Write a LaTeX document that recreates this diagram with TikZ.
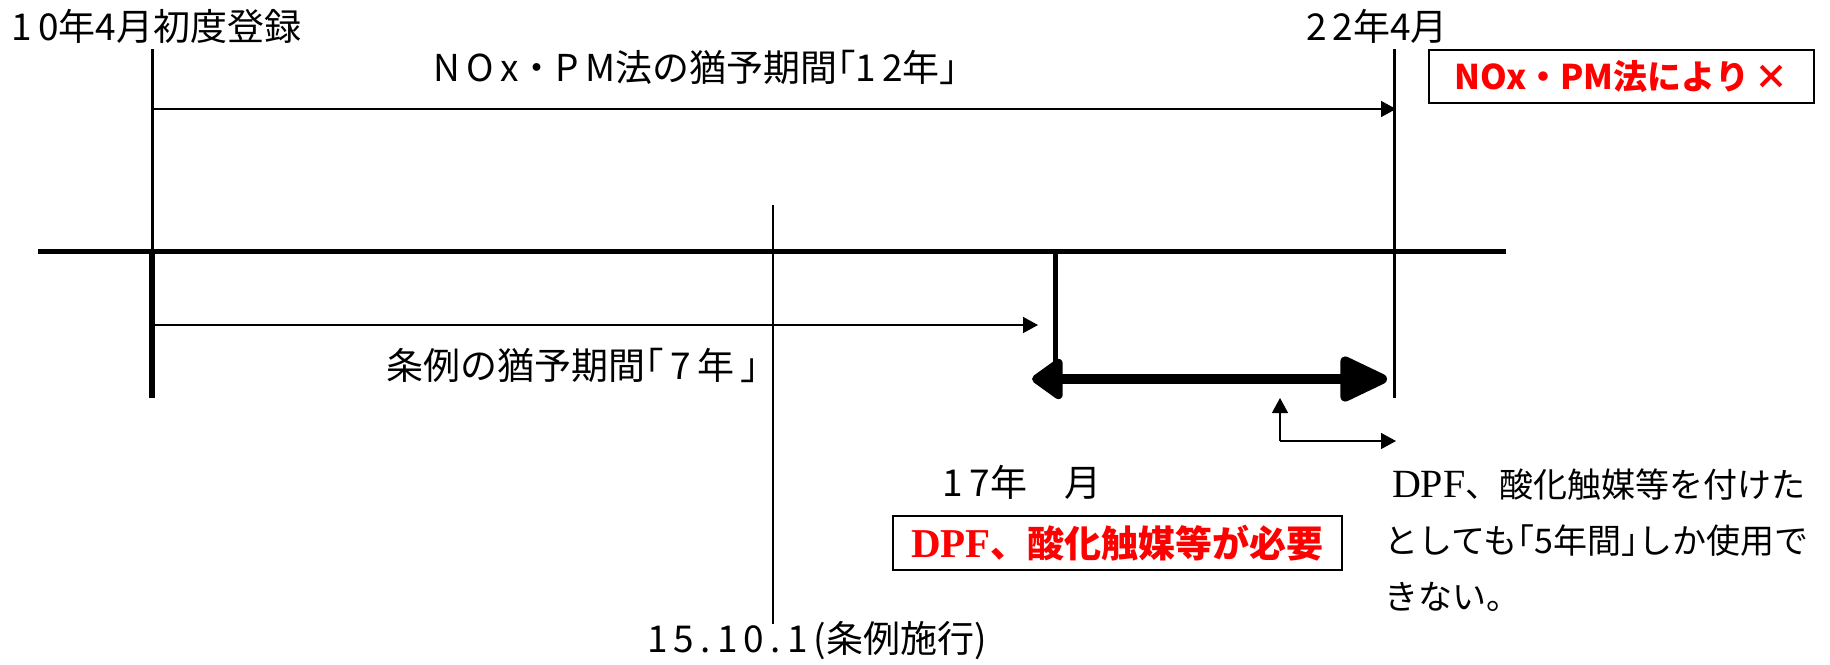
\documentclass[tikz,border=0pt]{standalone}
\usepackage{fontspec}
\setmainfont{Noto Sans CJK JP}
\newfontfamily\dpffont{Liberation Serif}
\usetikzlibrary{arrows.meta}

\begin{document}
\begin{tikzpicture}[x=0.5pt,y=-0.5pt,
        lbl/.style={inner sep=0pt, font=\fontsize{18.5}{28}\selectfont},
        redbox/.style={draw, line width=0.8pt, inner sep=0pt, text=red, font=\fontsize{17}{20}\selectfont\bfseries},
        thinarrow/.style={-{Triangle[length=7.5pt,width=8pt]}, line width=0.7pt},
        bigarrow/.style={{Triangle[round,length=17pt,width=23pt]}-{Triangle[round,length=27pt,width=24pt]}, line width=5pt}]
        \useasboundingbox (0,0) rectangle (1830,664);

        % time line and marks
        \coordinate (axL) at (38,251);
        \coordinate (axR) at (1506,251);
        \coordinate (regT) at (152,49);
        \coordinate (reg) at (152,251);
        \coordinate (regB) at (152,398);
        \coordinate (endT) at (1394,49);
        \coordinate (endB) at (1394,398);
        \coordinate (ordT) at (773,205);
        \coordinate (ordB) at (773,624);
        \coordinate (due) at (1055,251);
        \coordinate (dueB) at (1055,372);

        \draw[line width=2.5pt] (axL) -- (axR);
        \draw[line width=1.5pt] (regT) -- (reg);
        \draw[line width=3pt] (reg) -- (regB);
        \draw[line width=1.5pt] (endT) -- (endB);
        \draw[line width=1pt] (ordT) -- (ordB);
        \draw[line width=2.5pt] (due) -- (dueB);

        % periods
        \coordinate (nox0) at (152,109);
        \coordinate (nox1) at (1396,109);
        \coordinate (jor0) at (152,325);
        \coordinate (jor1) at (1038,325);
        \coordinate (use0) at (1032,379);
        \coordinate (use1) at (1387,379);
        \coordinate (kink) at (1280,441);
        \coordinate (kinkT) at (1280,398);
        \coordinate (kinkR) at (1396,441);

        \draw[thinarrow] (nox0) -- (nox1);
        \draw[thinarrow] (jor0) -- (jor1);
        \draw[bigarrow] (use0) -- (use1);
        \draw[thinarrow] (kink) -- (kinkT);
        \draw[thinarrow] (kink) -- (kinkR);

        % labels
        \node[lbl, anchor=west] (regdate) at (11,26) {1\,0年4月初度登録};
        \node[lbl] (enddate) at (1377,26) {2\,2年4月};
        \node[lbl] (noxlbl) at (696,67) {N\,O\,x・P\,M法の猶予期間｢1\,2年｣};
        \node[lbl] (jorlbl) at (573,365) {条例の猶予期間｢\,7\,年\,｣};
        \node[lbl] (duedate) at (1022,482) {1\,7年　月};
        \node[lbl] (ordlbl) at (817,641) {1\,5\,.\,1\,0\,.\,1\,(条例施行)};
        \node[lbl, anchor=north west, align=left, font=\fontsize{17}{28}\selectfont] (note) at (1384,468)
            {\ {\dpffont\fontsize{20}{28}\selectfont DPF}、酸化触媒等を付けた\\
             としても｢5年間｣しか使用で\\
             きない。};

        \node[redbox, minimum width=192.5pt, minimum height=26.5pt] (noxng) at (1621.5,76.5)
            {NOx・PM法により\,×};
        \node[redbox, minimum width=224.5pt, minimum height=27pt,
            font=\fontsize{18.5}{20}\selectfont\bfseries] (dpfneed) at (1117.5,543)
            {{\dpffont\fontsize{20.5}{20}\selectfont\bfseries DPF}、酸化触媒等が必要};
    \end{tikzpicture}
\end{document}
